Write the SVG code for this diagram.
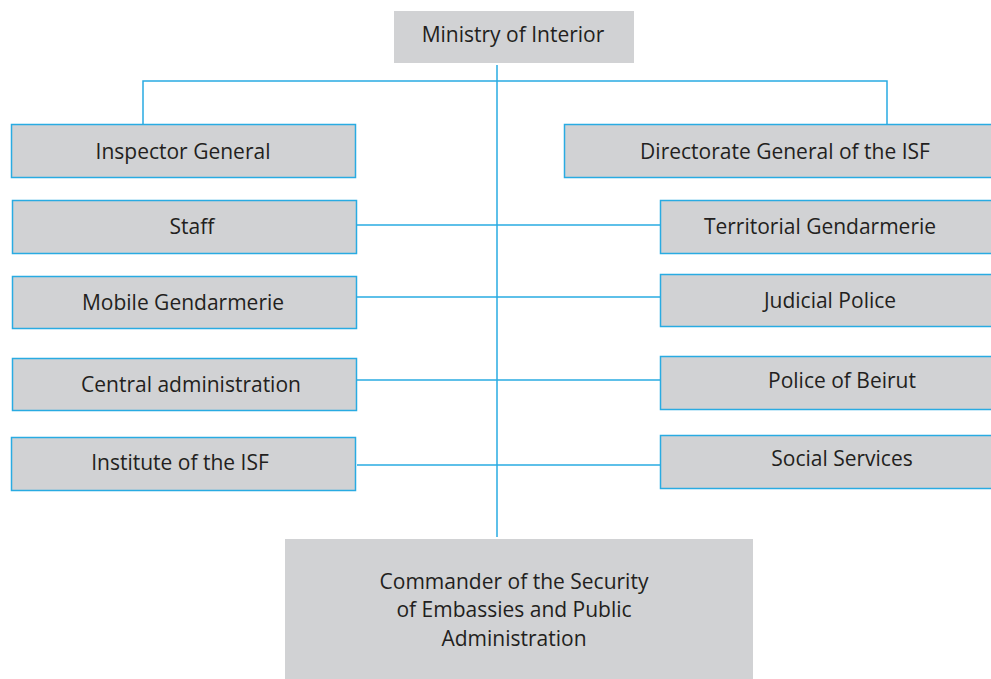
<svg xmlns="http://www.w3.org/2000/svg" width="991" height="679" viewBox="0 0 991 679">
<style>
.box{fill:#d1d2d4;stroke:#29abe2;stroke-width:1.5}
.plain{fill:#d1d2d4}
.t{font-family:"Open Sans","Liberation Sans",sans-serif;font-size:21px;font-weight:500;fill:#231f20;text-anchor:middle;dominant-baseline:central}
.c{fill:none;stroke:#29abe2;stroke-width:1.5}
</style>
<rect width="991" height="679" fill="#fff"/>
<g id="connectors">
<path class="c" d="M497 65V537"/>
<path class="c" d="M143 124V81H887V124"/>
<path class="c" d="M357 225H660"/>
<path class="c" d="M357 297H660"/>
<path class="c" d="M357 380H660"/>
<path class="c" d="M357 465H660"/>
</g>
<g id="ministry"><rect class="plain" x="394" y="11" width="240" height="52"/><text class="t" x="513" y="34">Ministry of Interior</text></g>
<g id="inspector"><rect class="box" x="11.5" y="124.5" width="344" height="53"/><text class="t" x="183" y="151">Inspector General</text></g>
<g id="staff"><rect class="box" x="12.5" y="200.5" width="344" height="53"/><text class="t" x="192" y="226">Staff</text></g>
<g id="mobile"><rect class="box" x="12.5" y="276.5" width="344" height="52"/><text class="t" x="183" y="302">Mobile Gendarmerie</text></g>
<g id="central"><rect class="box" x="12.5" y="358.5" width="344" height="52"/><text class="t" x="191" y="384">Central administration</text></g>
<g id="institute"><rect class="box" x="11.5" y="437.5" width="344" height="53"/><text class="t" x="180" y="462">Institute of the ISF</text></g>
<g id="directorate"><rect class="box" x="564.5" y="124.5" width="432" height="53"/><text class="t" x="785" y="151">Directorate General of the ISF</text></g>
<g id="territorial"><rect class="box" x="660.5" y="200.5" width="336" height="53"/><text class="t" x="820" y="226">Territorial Gendarmerie</text></g>
<g id="judicial"><rect class="box" x="660.5" y="274.5" width="336" height="52"/><text class="t" x="830" y="300">Judicial Police</text></g>
<g id="beirut"><rect class="box" x="660.5" y="356.5" width="336" height="53"/><text class="t" x="842" y="380">Police of Beirut</text></g>
<g id="social"><rect class="box" x="660.5" y="435.5" width="336" height="53"/><text class="t" x="842" y="458">Social Services</text></g>
<g id="commander"><rect class="plain" x="285" y="539" width="468" height="140"/>
<text class="t" x="514" y="581">Commander of the Security</text>
<text class="t" x="514" y="609">of Embassies and Public</text>
<text class="t" x="514" y="638">Administration</text></g>
</svg>
